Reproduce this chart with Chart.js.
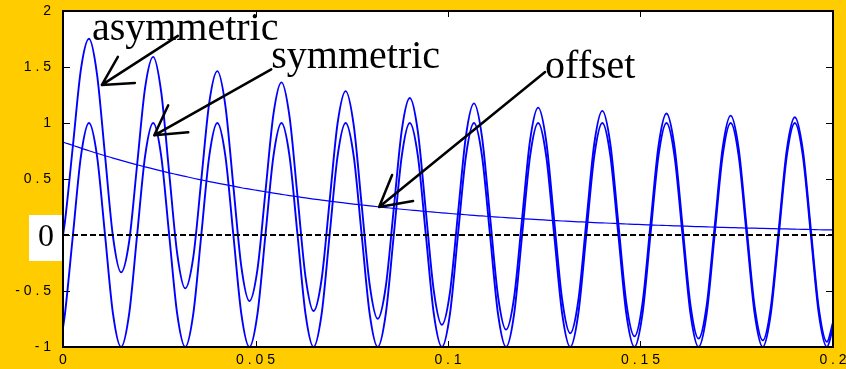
<!DOCTYPE html>
<html>
<head>
<meta charset="utf-8">
<script src="https://cdn.jsdelivr.net/npm/chart.js@4.4.0/dist/chart.umd.min.js"></script>
<style>
  html, body { margin: 0; padding: 0; background: #ffcc00; }
  #waves { display: block; }
</style>
</head>
<body>
<canvas id="waves" width="846" height="369"></canvas>
<script>
// sample times (s)
const timeSec = [0,
  0.0005, 0.00258, 0.00467, 0.00675, 0.00883, 0.01092, 0.013, 0.01508, 0.01717, 0.01925, 0.02133, 0.02342, 0.0255, 0.02758, 0.02967, 0.03175, 0.03383, 0.03592, 0.038, 0.04008, 0.04217, 0.04425, 0.04633, 0.04842,
  0.0505, 0.05258, 0.05467, 0.05675, 0.05883, 0.06092, 0.063, 0.06508, 0.06717, 0.06925, 0.07133, 0.07342, 0.0755, 0.07758, 0.07967, 0.08175, 0.08383, 0.08592, 0.088, 0.09008, 0.09217, 0.09425, 0.09633, 0.09842,
  0.1005, 0.10258, 0.10467, 0.10675, 0.10883, 0.11092, 0.113, 0.11508, 0.11717, 0.11925, 0.12133, 0.12342, 0.1255, 0.12758, 0.12967, 0.13175, 0.13383, 0.13592, 0.138, 0.14008, 0.14217, 0.14425, 0.14633, 0.14842,
  0.1505, 0.15258, 0.15467, 0.15675, 0.15883, 0.16092, 0.163, 0.16508, 0.16717, 0.16925, 0.17133, 0.17342, 0.1755, 0.17758, 0.17967, 0.18175, 0.18383, 0.18592, 0.188, 0.19008, 0.19217, 0.19425, 0.19633, 0.19842,
  0.2];

const symmetric = [-0.827,
  -0.707, 0, 0.707, 1, 0.707, 0, -0.707, -1, -0.707, 0, 0.707, 1, 0.707, 0, -0.707, -1, -0.707, 0, 0.707, 1, 0.707, 0, -0.707, -1,
  -0.707, 0, 0.707, 1, 0.707, 0, -0.707, -1, -0.707, 0, 0.707, 1, 0.707, 0, -0.707, -1, -0.707, 0, 0.707, 1, 0.707, 0, -0.707, -1,
  -0.707, 0, 0.707, 1, 0.707, 0, -0.707, -1, -0.707, 0, 0.707, 1, 0.707, 0, -0.707, -1, -0.707, 0, 0.707, 1, 0.707, 0, -0.707, -1,
  -0.707, 0, 0.707, 1, 0.707, 0, -0.707, -1, -0.707, 0, 0.707, 1, 0.707, 0, -0.707, -1, -0.707, 0, 0.707, 1, 0.707, 0, -0.707, -1,
  -0.827];

const asymmetric = [0,
  0.117, 0.799, 1.483, 1.752, 1.437, 0.708, -0.020, -0.334, -0.061, 0.627, 1.315, 1.590, 1.279, 0.555, -0.168, -0.477, -0.200, 0.492, 1.184, 1.463, 1.156, 0.436, -0.285, -0.590,
  -0.309, 0.386, 1.081, 1.363, 1.059, 0.342, -0.376, -0.679, -0.395, 0.303, 1.000, 1.285, 0.983, 0.268, -0.447, -0.748, -0.462, 0.237, 0.937, 1.223, 0.924, 0.210, -0.503, -0.802,
  -0.515, 0.186, 0.888, 1.175, 0.877, 0.165, -0.547, -0.845, -0.557, 0.146, 0.849, 1.137, 0.840, 0.129, -0.582, -0.878, -0.589, 0.115, 0.818, 1.108, 0.812, 0.101, -0.609, -0.905,
  -0.614, 0.090, 0.794, 1.085, 0.789, 0.080, -0.630, -0.925, -0.634, 0.070, 0.775, 1.066, 0.771, 0.062, -0.646, -0.941, -0.650, 0.055, 0.761, 1.052, 0.757, 0.049, -0.660, -0.954,
  -0.782];

const offset = [0.83,
  0.824, 0.799, 0.776, 0.752, 0.730, 0.708, 0.687, 0.666, 0.646, 0.627, 0.608, 0.590, 0.572, 0.555, 0.539, 0.523, 0.507, 0.492, 0.477, 0.463, 0.449, 0.436, 0.422, 0.410,
  0.398, 0.386, 0.374, 0.363, 0.352, 0.342, 0.331, 0.321, 0.312, 0.303, 0.293, 0.285, 0.276, 0.268, 0.260, 0.252, 0.245, 0.237, 0.230, 0.223, 0.217, 0.210, 0.204, 0.198,
  0.192, 0.186, 0.181, 0.175, 0.170, 0.165, 0.160, 0.155, 0.150, 0.146, 0.142, 0.137, 0.133, 0.129, 0.125, 0.122, 0.118, 0.115, 0.111, 0.108, 0.105, 0.101, 0.098, 0.095,
  0.093, 0.090, 0.087, 0.085, 0.082, 0.080, 0.077, 0.075, 0.073, 0.070, 0.068, 0.066, 0.064, 0.062, 0.061, 0.059, 0.057, 0.055, 0.054, 0.052, 0.050, 0.049, 0.047, 0.046,
  0.045];

const xTickValues = [0, 0.05, 0.1, 0.15, 0.2];
const xTickLabels = ['0', '0 . 0 5', '0 . 1', '0 . 1 5', '0 . 2'];
const yTickValues = [-1, -0.5, 0, 0.5, 1, 1.5, 2];
const yTickLabels = ['- 1', '- 0 . 5', '0', '0 . 5', '1', '1 . 5', '2'];

// callouts: arrow tip sits on the curve (data units), the rest hangs off it in px
const callouts = [
  { text: 'asymmetric', tipX: 0.0101, tipY: 1.34, tail: [76, -49], wings: [[16, -28], [33, -2]], label: [-10, -45] },
  { text: 'symmetric', tipX: 0.0237, tipY: 0.89, tail: [117, -66], wings: [[14, -30], [34, -3]], label: [117, -67] },
  { text: 'offset', tipX: 0.0821, tipY: 0.25, tail: [166, -135], wings: [[13, -32], [34, -6]], label: [166, -129] }
];

const BLUE = '#0000ff';
const toPoints = vals => timeSec.map((t, i) => ({ x: t, y: vals[i] }));

const framePlugin = {
  id: 'frame',
  beforeDraw(chart) {
    const { ctx, chartArea: a } = chart;
    ctx.save();
    ctx.fillStyle = '#ffcc00';
    ctx.fillRect(0, 0, chart.width, chart.height);
    ctx.fillStyle = '#ffffff';
    ctx.fillRect(a.left, a.top, a.right - a.left, a.bottom - a.top);
    ctx.restore();
  },
  afterDatasetsDraw(chart) {
    const { ctx, chartArea: a, scales: { x, y } } = chart;
    ctx.save();
    // zero reference
    const y0 = y.getPixelForValue(0);
    ctx.strokeStyle = '#000';
    ctx.lineWidth = 2;
    ctx.setLineDash([6, 3]);
    ctx.beginPath();
    ctx.moveTo(a.left, y0);
    ctx.lineTo(a.right, y0);
    ctx.stroke();
    ctx.setLineDash([]);

    // inward ticks on all four sides
    ctx.lineWidth = 1;
    ctx.beginPath();
    yTickValues.forEach(v => {
      const py = Math.round(y.getPixelForValue(v)) + 0.5;
      ctx.moveTo(a.left, py); ctx.lineTo(a.left + 7, py);
      ctx.moveTo(a.right, py); ctx.lineTo(a.right - 7, py);
    });
    xTickValues.forEach(v => {
      const px = Math.round(x.getPixelForValue(v)) + 0.5;
      ctx.moveTo(px, a.bottom); ctx.lineTo(px, a.bottom - 6);
      ctx.moveTo(px, a.top); ctx.lineTo(px, a.top + 6);
    });
    ctx.stroke();

    ctx.lineWidth = 2;
    ctx.strokeRect(a.left, a.top, a.right - a.left, a.bottom - a.top);
    ctx.restore();
  },
  afterDraw(chart) {
    const { ctx, chartArea: a, scales: { x, y } } = chart;
    ctx.save();

    // big "0" on white over the axis label
    const y0 = y.getPixelForValue(0);
    ctx.fillStyle = '#ffffff';
    ctx.fillRect(29, y0 - 20, a.left - 30, 46);
    ctx.fillStyle = '#000';
    ctx.font = '32px "Liberation Serif", "Times New Roman", serif';
    ctx.textAlign = 'center';
    ctx.textBaseline = 'middle';
    ctx.fillText('0', 46, y0 + 3);

    ctx.textAlign = 'left';
    ctx.textBaseline = 'alphabetic';
    ctx.font = '40px "Liberation Serif", "Times New Roman", serif';
    ctx.strokeStyle = '#000';
    ctx.lineWidth = 2.5;
    ctx.lineCap = 'round';
    callouts.forEach(c => {
      const tx = x.getPixelForValue(c.tipX);
      const ty = y.getPixelForValue(c.tipY);
      ctx.beginPath();
      ctx.moveTo(tx + c.tail[0], ty + c.tail[1]);
      ctx.lineTo(tx, ty);
      c.wings.forEach(w => {
        ctx.moveTo(tx, ty);
        ctx.lineTo(tx + w[0], ty + w[1]);
      });
      ctx.stroke();
      ctx.fillText(c.text, tx + c.label[0], ty + c.label[1]);
    });
    ctx.restore();
  }
};

const tickFont = { family: '"Liberation Sans", Arial, sans-serif', size: 14 };

new Chart(document.getElementById('waves'), {
  type: 'line',
  data: {
    datasets: [
      { label: 'offset', data: toPoints(offset), borderColor: BLUE, borderWidth: 1.2 },
      { label: 'symmetric', data: toPoints(symmetric), borderColor: BLUE, borderWidth: 1.9 },
      { label: 'asymmetric', data: toPoints(asymmetric), borderColor: BLUE, borderWidth: 1.9 }
    ]
  },
  options: {
    responsive: false,
    animation: false,
    devicePixelRatio: 1,
    layout: { padding: { top: 11, right: 13, left: 0, bottom: 0 } },
    elements: {
      point: { radius: 0 },
      line: { cubicInterpolationMode: 'monotone', fill: false }
    },
    plugins: {
      legend: { display: false },
      tooltip: { enabled: false }
    },
    scales: {
      x: {
        type: 'linear',
        min: 0,
        max: 0.2,
        afterBuildTicks: s => { s.ticks = xTickValues.map(v => ({ value: v })); },
        afterFit: s => { s.height = 22; s.paddingLeft = 0; s.paddingRight = 0; },
        grid: { display: false, drawTicks: false },
        border: { display: false },
        ticks: {
          color: '#000',
          font: tickFont,
          padding: 5,
          maxRotation: 0,
          autoSkip: false,
          callback: (v, i) => xTickLabels[i]
        }
      },
      y: {
        min: -1,
        max: 2,
        afterBuildTicks: s => { s.ticks = yTickValues.map(v => ({ value: v })); },
        afterFit: s => { s.width = 63; s.paddingTop = 0; s.paddingBottom = 0; },
        grid: { display: false, drawTicks: false },
        border: { display: false },
        ticks: {
          color: '#000',
          font: tickFont,
          padding: 12,
          autoSkip: false,
          callback: (v, i) => yTickLabels[i]
        }
      }
    }
  },
  plugins: [framePlugin]
});
</script>
</body>
</html>
